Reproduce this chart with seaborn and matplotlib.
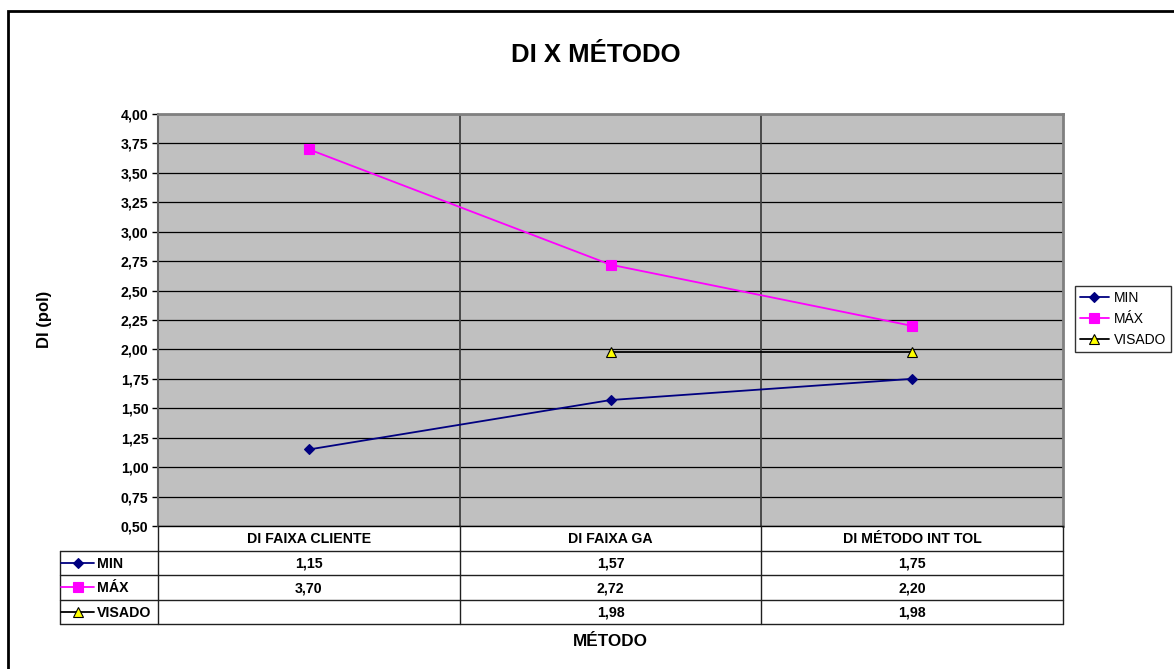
import numpy as np
import pandas as pd
import matplotlib
matplotlib.use("Agg")
import matplotlib.pyplot as plt
from matplotlib.lines import Line2D
from matplotlib.patches import Rectangle
import seaborn as sns

# ---- data -------------------------------------------------------------
categories = ["DI FAIXA CLIENTE", "DI FAIXA GA", "DI MÉTODO INT TOL"]
series_names = ["MIN", "MÁX", "VISADO"]
min_values = [1.15, 1.57, 1.75]
max_values = [3.70, 2.72, 2.20]
visado_values = [np.nan, 1.98, 1.98]
y_ticks = [0.50, 0.75, 1.00, 1.25, 1.50, 1.75, 2.00, 2.25,
           2.50, 2.75, 3.00, 3.25, 3.50, 3.75, 4.00]

series_values = {"MIN": min_values, "MÁX": max_values, "VISADO": visado_values}

rows = []
for name in series_names:
    for pos, (cat, val) in enumerate(zip(categories, series_values[name])):
        rows.append({"serie": name, "pos": pos, "metodo": cat, "valor": val})
df = pd.DataFrame(rows)

styles = {
    "MIN": dict(color="#000080", marker="D", markersize=5.5,
                markerfacecolor="#000080", markeredgecolor="#000080"),
    "MÁX": dict(color="#FF00FF", marker="s", markersize=7,
                markerfacecolor="#FF00FF", markeredgecolor="#FF00FF"),
    "VISADO": dict(color="black", marker="^", markersize=6.5,
                   markerfacecolor="#FFFF00", markeredgecolor="black"),
}


def fmt(v):
    return f"{v:.2f}".replace(".", ",")


# ---- figure -----------------------------------------------------------
sns.set_theme(style="white")
plt.rcParams["font.family"] = ["Liberation Sans", "DejaVu Sans"]
plt.rcParams.update({"text.color": "black", "axes.labelcolor": "black",
                     "xtick.color": "black", "ytick.color": "black"})

W, H = 1174, 669
fig = plt.figure(figsize=(W / 100, H / 100), dpi=100)
fig.patch.set_facecolor("white")


def fx(px):
    return px / W


def fy(py):
    return 1 - py / H


FS = 10.2  # body text size
PLOT_L, PLOT_R, PLOT_T, PLOT_B = 158, 1063, 114, 526
ax = fig.add_axes([fx(PLOT_L), fy(PLOT_B), fx(PLOT_R) - fx(PLOT_L), fy(PLOT_T) - fy(PLOT_B)])
ax.set_facecolor("#C0C0C0")

n = len(categories)
ax.set_xlim(-0.5, n - 0.5)
ax.set_ylim(y_ticks[0], y_ticks[-1])
ax.set_yticks(y_ticks)
ax.set_yticklabels([fmt(t) for t in y_ticks], fontsize=FS, fontweight="bold")
ax.set_xticks([])
ax.yaxis.grid(True, color="black", linewidth=0.9)
ax.set_axisbelow(True)
for i in range(1, n):
    ax.axvline(i - 0.5, color="#404040", linewidth=1.3, zorder=1)

for name in series_names:
    sub = df[df["serie"] == name]
    sns.lineplot(data=sub, x="pos", y="valor", ax=ax, estimator=None,
                 errorbar=None, linewidth=1.3, markeredgewidth=0.8,
                 zorder=3, **styles[name])

ax.set_xlabel("")
ax.set_ylabel("")
ax.tick_params(axis="y", length=4, width=1, color="black", direction="out",
               pad=3, left=True)
for side in ("top", "right"):
    ax.spines[side].set_color("#808080")
    ax.spines[side].set_linewidth(2)
ax.spines["left"].set_color("#606060")
ax.spines["left"].set_linewidth(1.5)
ax.spines["bottom"].set_color("black")
ax.spines["bottom"].set_linewidth(1)

# ---- titles -----------------------------------------------------------
fig.text(fx(596), fy(61.5), "DI X MÉTODO", ha="center", va="baseline",
         fontsize=18.5, fontweight="bold")
fig.text(fx(44), fy(319), "DI (pol)", ha="center", va="center",
         rotation=90, fontsize=12, fontweight="bold")
fig.text(fx(610.5), fy(646), "MÉTODO", ha="center", va="baseline",
         fontsize=12.3, fontweight="bold")

# ---- legend -----------------------------------------------------------
handles = [Line2D([], [], linewidth=1.3, markeredgewidth=0.8, **styles[s])
           for s in series_names]
leg = fig.legend(handles, series_names, loc="upper left",
                 bbox_to_anchor=(fx(1075), fy(286)), frameon=True,
                 fancybox=False, fontsize=10, handlelength=2.1,
                 borderpad=0.35, labelspacing=0.5, handletextpad=0.35,
                 borderaxespad=0)
leg.get_frame().set_edgecolor("black")
leg.get_frame().set_linewidth(1)

# ---- data table -------------------------------------------------------
TAB_L, TAB_B = 60, 624
tax = fig.add_axes([fx(TAB_L), fy(TAB_B), fx(PLOT_R) - fx(TAB_L), fy(PLOT_B) - fy(TAB_B)])
tax.axis("off")
cat_px = (PLOT_R - PLOT_L) / n
left = -0.5 - (PLOT_L - TAB_L) / cat_px
tax.set_xlim(left, n - 0.5)
n_rows = len(series_names) + 1
tax.set_ylim(n_rows, 0)
row_px = (TAB_B - PLOT_B) / n_rows
cap_shift = 0.5 * FS * 100 / 72 * 0.716 / row_px  # baseline offset for centred caps

line_kw = dict(color="#202020", linewidth=1, clip_on=False)
for r in range(1, n_rows + 1):
    tax.plot([left, n - 0.5], [r, r], **line_kw)
tax.plot([left, left], [1, n_rows], **line_kw)
for i in range(n + 1):
    tax.plot([i - 0.5, i - 0.5], [0, n_rows], **line_kw)

for i, cat in enumerate(categories):
    tax.text(i, 0.5 + cap_shift, cat, ha="center", va="baseline",
             fontsize=FS, fontweight="bold")

for r, name in enumerate(series_names, start=1):
    yc = r + 0.5
    key_x0 = left + 1 / cat_px
    key_x1 = left + 34 / cat_px
    tax.plot([key_x0, key_x1], [yc, yc], color=styles[name]["color"],
             linewidth=1.3, clip_on=False)
    tax.plot([(key_x0 + key_x1) / 2], [yc], linestyle="none",
             marker=styles[name]["marker"], markersize=styles[name]["markersize"],
             markerfacecolor=styles[name]["markerfacecolor"],
             markeredgecolor=styles[name]["markeredgecolor"],
             markeredgewidth=0.8, clip_on=False)
    tax.text(left + 37 / cat_px, yc + cap_shift, name, ha="left", va="baseline",
             fontsize=FS, fontweight="bold")
    for i, v in enumerate(series_values[name]):
        if not np.isnan(v):
            tax.text(i, yc + cap_shift, fmt(v), ha="center", va="baseline",
                     fontsize=FS, fontweight="bold")

# ---- chart frame ------------------------------------------------------
fig.patches.append(Rectangle((fx(8), -0.1), 1.2, fy(11) + 0.1,
                             transform=fig.transFigure, fill=False,
                             edgecolor="black", linewidth=2))

fig.savefig("out.png", dpi=100)
